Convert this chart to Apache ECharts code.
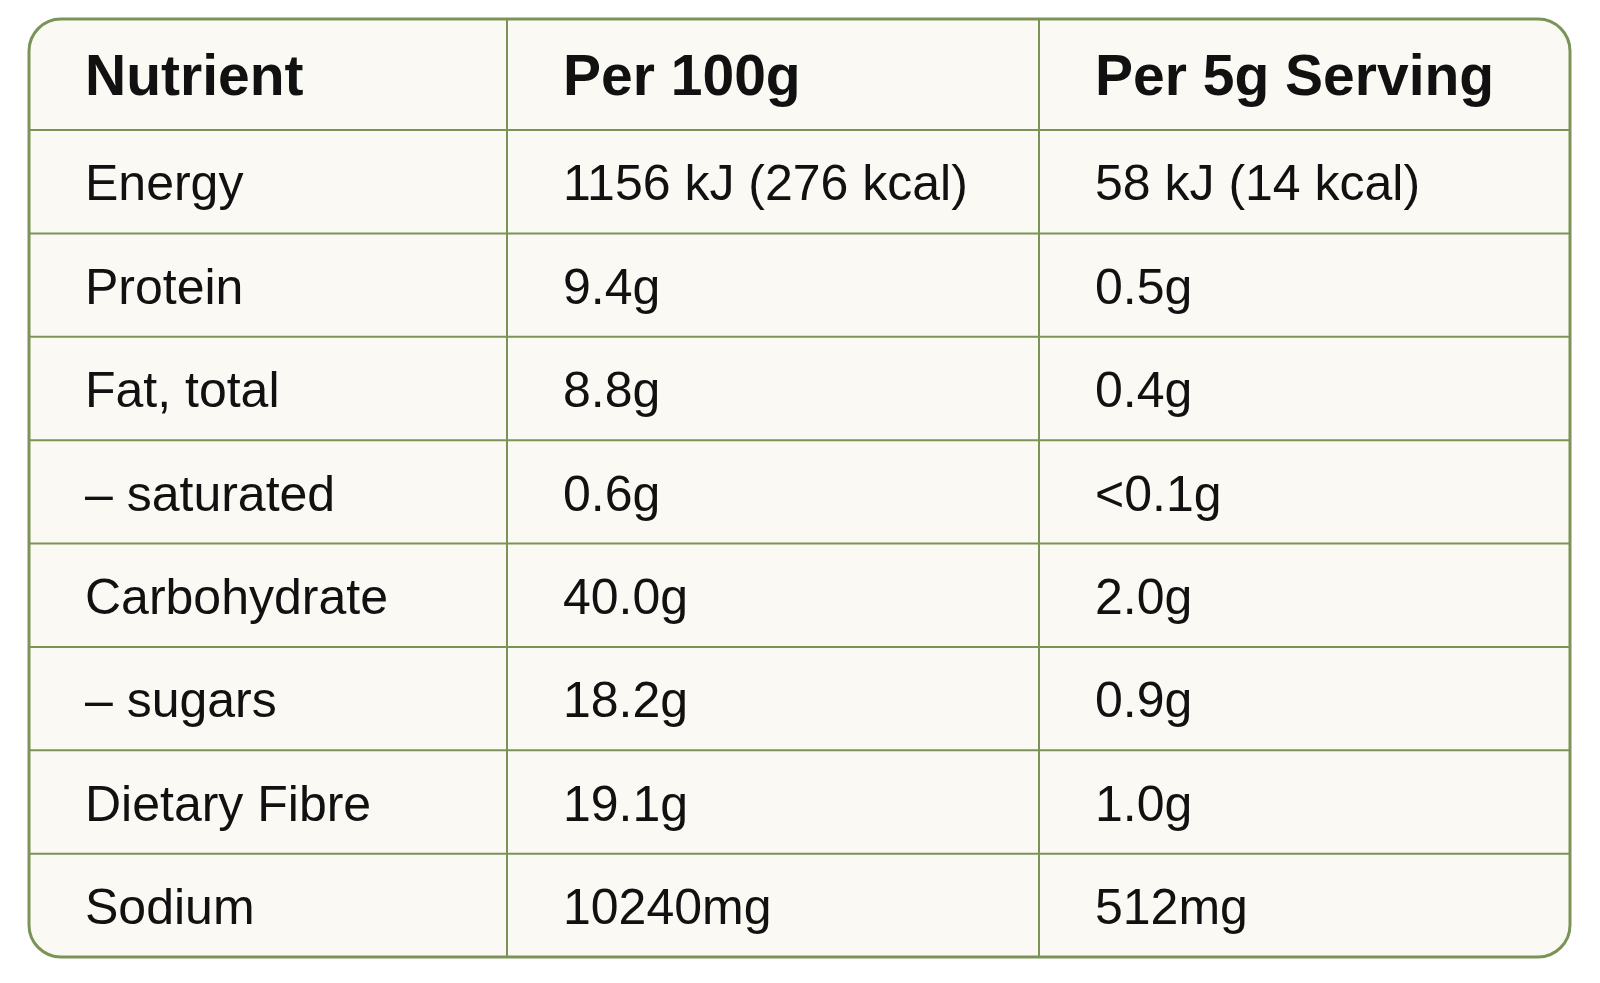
<!DOCTYPE html>
<html>
<head>
<meta charset="utf-8">
<script src="https://cdn.jsdelivr.net/npm/echarts@6/dist/echarts.min.js"></script>
<style>
html,body{margin:0;padding:0;background:#ffffff;}
#chart{width:1600px;height:983px;}
</style>
</head>
<body>
<div id="chart"></div>
<script>
const columns = ['Nutrient', 'Per 100g', 'Per 5g Serving'];
const nutrients = ['Energy', 'Protein', 'Fat, total', '– saturated', 'Carbohydrate', '– sugars', 'Dietary Fibre', 'Sodium'];
const per100g = ['1156 kJ (276 kcal)', '9.4g', '8.8g', '0.6g', '40.0g', '18.2g', '19.1g', '10240mg'];
const perServing = ['58 kJ (14 kcal)', '0.5g', '0.4g', '<0.1g', '2.0g', '0.9g', '1.0g', '512mg'];

// layout (axis units = px inside the grid)
const TABLE_W = 1541, TABLE_H = 938;
const colEdges = [0, 478, 1010, 1541];
const headerH = 111;
const rowH = (TABLE_H - headerH) / nutrients.length;
const rowEdge = i => (i === 0 ? 0 : headerH + (i - 1) * rowH);
const PAD = 56;
const GREEN = '#7b9357';

const table = [columns].concat(nutrients.map((n, i) => [n, per100g[i], perServing[i]]));
const cells = [];
table.forEach((row, r) => row.forEach((txt, c) => cells.push([r, c, txt])));

const chart = echarts.init(document.getElementById('chart'));
chart.setOption({
  backgroundColor: '#ffffff',
  animation: false,
  grid: { left: 29, top: 19, width: TABLE_W, height: TABLE_H },
  xAxis: { type: 'value', min: 0, max: TABLE_W, show: false },
  yAxis: { type: 'value', min: 0, max: TABLE_H, inverse: true, show: false },
  series: [
    {
      type: 'custom',
      data: [[0]],
      silent: true,
      z: 1,
      renderItem: function (params, api) {
        const p0 = api.coord([0, 0]);
        const p1 = api.coord([TABLE_W, TABLE_H]);
        const children = [];
        children.push({
          type: 'rect',
          shape: { x: p0[0], y: p0[1], width: p1[0] - p0[0], height: p1[1] - p0[1], r: 32 },
          style: { fill: '#fbf9f3', stroke: 'none' }
        });
        for (let i = 1; i <= nutrients.length; i++) {
          const y = api.coord([0, rowEdge(i)])[1];
          children.push({
            type: 'line',
            shape: { x1: p0[0], y1: y, x2: p1[0], y2: y },
            style: { stroke: GREEN, lineWidth: 2 }
          });
        }
        for (let c = 1; c < colEdges.length - 1; c++) {
          const x = api.coord([colEdges[c], 0])[0];
          children.push({
            type: 'line',
            shape: { x1: x, y1: p0[1], x2: x, y2: p1[1] },
            style: { stroke: GREEN, lineWidth: 2 }
          });
        }
        children.push({
          type: 'rect',
          shape: { x: p0[0], y: p0[1], width: p1[0] - p0[0], height: p1[1] - p0[1], r: 32 },
          style: { fill: 'none', stroke: GREEN, lineWidth: 3 }
        });
        return { type: 'group', children: children };
      }
    },
    {
      type: 'custom',
      data: cells,
      silent: true,
      z: 2,
      renderItem: function (params, api) {
        const r = api.value(0), c = api.value(1);
        const txt = cells[params.dataIndex][2];
        const top = rowEdge(r);
        const bottom = r === 0 ? headerH : rowEdge(r + 1);
        const pt = api.coord([colEdges[c] + PAD, (top + bottom) / 2]);
        const header = r === 0;
        return {
          type: 'text',
          x: pt[0],
          y: pt[1] + 5,
          style: {
            text: txt,
            fill: '#111111',
            fontFamily: '"Liberation Sans", Arial, Helvetica, sans-serif',
            fontSize: header ? 57 : 50,
            fontWeight: header ? 'bold' : 'normal',
            align: 'left',
            verticalAlign: 'middle'
          }
        };
      }
    }
  ]
});
</script>
</body>
</html>
